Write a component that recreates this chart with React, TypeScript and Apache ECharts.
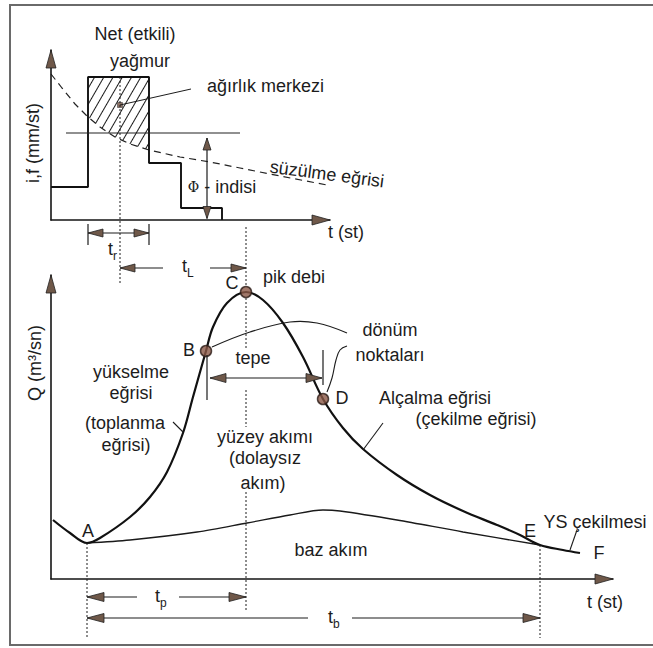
import React, { useEffect, useRef } from 'react';
import * as echarts from 'echarts';

// ---------------- top panel: hyetograph (time units, intensity units) ----------------
const rainEdges = [0, 3.7, 9.8, 13.0, 17.1];
const rainLevels = [3.3, 14.3, 5.7, 1.2];
const infilT = [0.0, 1.1, 2.4, 3.7, 4.9, 6.4, 7.9, 9.8, 12.9, 15.9, 18.9, 22.9, 27.6];
const infilV = [14.6, 13.2, 11.6, 10.3, 9.3, 8.3, 7.6, 7.0, 6.3, 5.8, 5.2, 4.4, 3.5];
const phiIndex = 8.7;
const phiSpan = [1.5, 18.9];
const centroid = [6.9, 11.5];
const topMax = [27.9, 17];

// ---------------- bottom panel: hydrograph ----------------
const hydT = [0.2, 1.9, 3.6, 4.9, 7.9, 9.9, 11.6, 13.2, 14.2, 15.5, 16.2, 17.6, 19.5, 21.2, 23.2, 25.2, 27.2, 29.2, 31.2, 34.6, 37.9, 41.2, 44.6, 46.9, 48.9, 51.2, 52.9];
const hydQ = [5.9, 4.6, 3.6, 4.1, 6.2, 8.2, 10.7, 14.6, 18.2, 22.8, 25.2, 27.6, 28.7, 27.9, 25.6, 22.2, 18.0, 15.1, 13.0, 10.4, 8.4, 6.8, 5.4, 4.4, 3.4, 2.9, 2.6];
const baseT = [3.6, 7.9, 14.6, 19.6, 23.9, 27.2, 28.9, 34.6, 41.2, 48.9];
const baseQ = [3.6, 3.9, 4.7, 5.6, 6.4, 6.9, 6.8, 5.9, 4.7, 3.4];
const keyNames = ['A', 'B', 'C', 'D', 'E', 'F'];
const keyIdx = [2, 9, 12, 16, 24, 26];
const dotted = ['B', 'C', 'D'];
const botMax = [56.2, 30.4];

const FONT = '"Liberation Sans", Arial, Helvetica, sans-serif';
const INK = '#1c1c1c';
const HEAD = '#6f5849';

type P = number[];

function seg(a: P, b: P, w = 1.2, dash?: number[]) {
  return {
    type: 'line', silent: true, z: 100,
    shape: { x1: a[0], y1: a[1], x2: b[0], y2: b[1] },
    style: { stroke: INK, lineWidth: w, lineDash: dash || null, fill: null },
  };
}
function head(tip: P, dir: P, len = 15, wid = 8) {
  const d = Math.hypot(dir[0], dir[1]);
  const ux = dir[0] / d, uy = dir[1] / d;
  const bx = tip[0] - ux * len, by = tip[1] - uy * len;
  return {
    type: 'polygon', silent: true, z: 102,
    shape: { points: [[tip[0], tip[1]], [bx - uy * wid / 2, by + ux * wid / 2], [bx + uy * wid / 2, by - ux * wid / 2]] },
    style: { fill: HEAD, stroke: '#222', lineWidth: 0.8 },
  };
}
function arrow2(a: P, b: P, gap?: [P, P], len = 15, wid = 8) {
  const out: any[] = [];
  if (gap) { out.push(seg(a, gap[0])); out.push(seg(gap[1], b)); } else out.push(seg(a, b));
  out.push(head(a, [a[0] - b[0], a[1] - b[1]], len, wid));
  out.push(head(b, [b[0] - a[0], b[1] - a[1]], len, wid));
  return out;
}
function txt(p: P, text: string, size = 18, align = 'center', rotation = 0, extra: any = {}) {
  return {
    type: 'text', silent: true, z: 104, x: p[0], y: p[1], rotation,
    style: {
      text, fill: INK, fontSize: size, fontFamily: FONT,
      align, verticalAlign: 'middle', textAlign: align, textVerticalAlign: 'middle', ...extra,
    },
  };
}
function sub(pMain: P, pSub: P, main: string, s: string) {
  return [txt(pMain, main, 18, 'right'), txt(pSub, s, 12, 'left')];
}

const axisCommon = {
  type: 'value',
  axisLine: { show: true, onZero: false, lineStyle: { color: '#151515', width: 1.6 } },
  axisTick: { show: false },
  axisLabel: { show: false },
  splitLine: { show: false },
  z: 10,
};

function baseOption(): any {
  const stepData = rainLevels.map((v, i) => [rainEdges[i], v]).concat([[rainEdges[4], 0]]);
  const infil = infilT.map((t, i) => [t, infilV[i]]);
  const cover = infil.filter((p) => p[0] >= rainEdges[1] && p[0] <= rainEdges[2]);
  const hyd = hydT.map((t, i) => [t, hydQ[i]]);
  const base = baseT.map((t, i) => [t, baseQ[i]]);
  const marks = keyNames
    .map((n, k) => ({ n, p: [hydT[keyIdx[k]], hydQ[keyIdx[k]]] }))
    .filter((m) => dotted.indexOf(m.n) >= 0)
    .map((m) => m.p);
  const decal = {
    symbol: 'rect', symbolSize: 1, color: '#1a1a1a', backgroundColor: 'rgba(0,0,0,0)',
    dashArrayX: [1, 0], dashArrayY: [1, 7], rotation: -Math.PI / 3,
  };
  return {
    animation: false,
    backgroundColor: '#ffffff',
    grid: [
      { left: 51, top: 50, width: 279, height: 170, outerBoundsMode: 'none', containLabel: false },
      { left: 51, top: 275, width: 562, height: 304, outerBoundsMode: 'none', containLabel: false },
    ],
    xAxis: [
      { ...axisCommon, gridIndex: 0, min: 0, max: topMax[0] },
      { ...axisCommon, gridIndex: 1, min: 0, max: botMax[0] },
    ],
    yAxis: [
      { ...axisCommon, gridIndex: 0, min: 0, max: topMax[1] },
      { ...axisCommon, gridIndex: 1, min: 0, max: botMax[1] },
    ],
    series: [
      {
        name: 'net', type: 'line', xAxisIndex: 0, yAxisIndex: 0, z: 1, silent: true,
        data: [[rainEdges[1], rainLevels[1]], [rainEdges[2], rainLevels[1]]],
        symbol: 'none', lineStyle: { width: 0, decal }, itemStyle: { decal },
        areaStyle: { color: '#ffffff', opacity: 1 },
      },
      {
        name: 'cover', type: 'line', xAxisIndex: 0, yAxisIndex: 0, z: 2, silent: true,
        data: cover, symbol: 'none', lineStyle: { width: 0, color: '#fff' },
        areaStyle: { color: '#ffffff', opacity: 1 },
      },
      {
        name: 'süzülme', type: 'line', xAxisIndex: 0, yAxisIndex: 0, z: 3, silent: true,
        data: infil, symbol: 'none', lineStyle: { width: 1.2, color: '#222', type: [7, 5] },
      },
      {
        name: 'yağış', type: 'line', xAxisIndex: 0, yAxisIndex: 0, z: 3, silent: true,
        data: stepData, step: 'end', symbol: 'none', lineStyle: { width: 1.9, color: '#111' },
      },
      {
        name: 'phi', type: 'line', xAxisIndex: 0, yAxisIndex: 0, z: 3, silent: true,
        data: [[phiSpan[0], phiIndex], [phiSpan[1], phiIndex]], symbol: 'none',
        lineStyle: { width: 1.1, color: '#222' },
      },
      {
        name: 'merkez', type: 'scatter', xAxisIndex: 0, yAxisIndex: 0, z: 4, silent: true,
        data: [centroid], symbol: 'rect', symbolSize: 5,
        itemStyle: { color: '#6b4a3a', borderColor: '#222', borderWidth: 0.6 },
      },
      {
        name: 'baz', type: 'line', xAxisIndex: 1, yAxisIndex: 1, z: 3, silent: true,
        data: base, smooth: 0.3, symbol: 'none', lineStyle: { width: 1.3, color: '#1a1a1a' },
      },
      {
        name: 'hidrograf', type: 'line', xAxisIndex: 1, yAxisIndex: 1, z: 4, silent: true,
        data: hyd, smooth: 0.35, symbol: 'none', lineStyle: { width: 2.2, color: '#111' },
      },
      {
        name: 'noktalar', type: 'scatter', xAxisIndex: 1, yAxisIndex: 1, z: 5, silent: true,
        data: marks, symbolSize: 11,
        itemStyle: { color: '#8a5746', borderColor: '#2a1c17', borderWidth: 1.5 },
      },
    ],
  };
}

function buildGraphics(g0: (t: number, v: number) => P, g1: (t: number, v: number) => P) {
  const els: any[] = [];
  const key = (n: string) => { const i = keyIdx[keyNames.indexOf(n)]; return [hydT[i], hydQ[i]]; };
  const A = key('A'), B = key('B'), C = key('C'), D = key('D'), E = key('E');

  els.push({ type: 'rect', silent: true, z: 100, shape: { x: 10, y: 5, width: 700, height: 640 }, style: { fill: null, stroke: '#6a6a6a', lineWidth: 2 } });

  // axis arrowheads
  els.push(head(g0(topMax[0], 0), [1, 0], 18, 10));
  els.push(head(g0(0, topMax[1]), [0, -1], 18, 10));
  els.push(head(g1(botMax[0], 0), [1, 0], 18, 10));
  els.push(head(g1(0, botMax[1]), [0, -1], 18, 10));

  // ---- top panel texts ----
  els.push(txt(g0(8.4, 18.6), 'Net (etkili)'));
  els.push(txt(g0(8.9, 15.9), 'yağmur'));
  els.push(txt(g0(15.6, 13.4), 'ağırlık merkezi', 18, 'left'));
  els.push(seg(g0(centroid[0], centroid[1]), g0(14.0, 13.1), 1));
  els.push(txt(g0(27.6, 4.6), 'süzülme eğrisi', 18, 'center', -0.13));
  els.push(...arrow2(g0(15.6, phiIndex - 0.5), g0(15.6, 0.15), undefined, 12, 8));
  els.push(txt(g0(17.1, 3.3), '{p|Φ} - indisi', 18, 'center', 0, {
    rich: { p: { fontFamily: '"DejaVu Serif", serif', fontSize: 14, fill: INK } },
  }));
  els.push(txt(g0(29.5, -1.2), 't (st)'));
  els.push(txt(g0(-1.8, 7.7), 'i,f (mm/st)', 18, 'center', Math.PI / 2));

  // t_r
  els.push(...arrow2(g0(rainEdges[1], -1.3), g0(rainEdges[2], -1.3)));
  els.push(seg(g0(rainEdges[1], -0.4), g0(rainEdges[1], -2.5)));
  els.push(seg(g0(rainEdges[2], -0.4), g0(rainEdges[2], -2.5)));
  els.push(...sub(g0(6.2, -2.9), g0(6.2, -3.6), 't', 'r'));

  // dotted verticals (broken around the peak dot and the labels)
  els.push(seg(g0(centroid[0], rainLevels[1]), g0(centroid[0], -6.3), 1, [2, 2]));
  els.push(seg(g0(C[0], -0.7), g1(C[0], C[1] + 0.6), 1, [2, 2]));
  els.push(seg(g1(C[0], C[1] - 0.6), g1(C[0], 22.9), 1, [2, 2]));
  els.push(seg(g1(C[0], 18.9), g1(C[0], 15.2), 1, [2, 2]));
  els.push(seg(g1(C[0], 8.7), g1(C[0], -3.3), 1, [2, 2]));
  els.push(seg(g1(A[0], A[1]), g1(A[0], -5.9), 1, [2, 2]));
  els.push(seg(g1(E[0], E[1]), g1(E[0], -5.9), 1, [2, 2]));

  // t_L
  els.push(...arrow2(g1(centroid[0], 31.1), g1(C[0], 31.1), [g1(11.2, 31.1), g1(15.9, 31.1)]));
  els.push(...sub(g1(13.6, 31.3), g1(13.6, 30.6), 't', 'L'));

  // point labels
  els.push(txt(g1(24.3, 30.2), 'pik debi'));
  els.push(txt(g1(18.1, 29.6), 'C'));
  els.push(txt(g1(13.8, 22.9), 'B'));
  els.push(txt(g1(29.1, 18.1), 'D'));
  els.push(txt(g1(3.7, 4.8), 'A'));
  els.push(txt(g1(47.9, 4.8), 'E'));
  els.push(txt(g1(54.8, 2.6), 'F'));

  // tepe
  els.push(...arrow2(g1(B[0] + 0.4, 20.1), g1(D[0] - 0.1, 20.1), undefined, 16, 9));
  els.push(seg(g1(15.6, 22.4), g1(15.6, 17.9)));
  els.push(seg(g1(27.2, 22.9), g1(27.2, 19.4)));
  els.push(txt(g1(20.2, 22.1), 'tepe'));

  // dönüm noktaları callouts
  const cb = [[16.1, 23.2], [19.9, 24.7], [23.9, 25.7], [26.6, 25.6], [29.6, 24.6]].map((p) => g1(p[0], p[1]));
  els.push({ type: 'polyline', silent: true, z: 100, shape: { points: cb, smooth: 0.4 }, style: { stroke: INK, lineWidth: 1.1, fill: null } });
  const cd = [[27.6, 18.7], [28.1, 20.1], [28.5, 21.9], [28.9, 22.9], [29.6, 23.3]].map((p) => g1(p[0], p[1]));
  els.push({ type: 'polyline', silent: true, z: 100, shape: { points: cd, smooth: 0.4 }, style: { stroke: INK, lineWidth: 1.1, fill: null } });
  els.push(txt(g1(33.9, 24.9), 'dönüm'));
  els.push(txt(g1(33.9, 22.4), 'noktaları'));

  // recession labels
  els.push(txt(g1(38.4, 18.1), 'Alçalma eğrisi'));
  els.push(txt(g1(42.5, 16.0), '(çekilme eğrisi)'));
  els.push(seg(g1(31.2, 12.9), g1(33.2, 15.6), 1.1));

  // rising limb labels
  els.push(txt(g1(8.0, 20.7), 'yükselme'));
  els.push(txt(g1(8.0, 18.6), 'eğrisi'));
  els.push(txt(g1(7.4, 15.6), '(toplanma'));
  els.push(txt(g1(7.5, 13.4), 'eğrisi)'));
  els.push(seg(g1(12.2, 15.7), g1(13.2, 14.7), 1.1));

  // surface runoff
  els.push(txt(g1(21.4, 14.2), 'yüzey akımı'));
  els.push(txt(g1(21.4, 12.1), '(dolaysız'));
  els.push(txt(g1(21.2, 9.6), 'akım)'));
  els.push(txt(g1(28.0, 2.9), 'baz akım'));

  // YS çekilmesi
  els.push(txt(g1(54.4, 5.7), 'YS çekilmesi'));
  els.push(seg(g1(52.6, 4.9), g1(51.9, 2.9), 1.1));

  // axis titles
  els.push(txt(g1(-1.6, 21.6), 'Q (m³/sn)', 18, 'center', Math.PI / 2));
  els.push(txt(g1(55.4, -2.3), 't (st)'));

  // t_p, t_b
  els.push(...arrow2(g1(A[0], -1.8), g1(C[0], -1.8), [g1(8.6, -1.8), g1(12.8, -1.8)], 17, 9));
  els.push(...sub(g1(10.9, -1.7), g1(10.9, -2.4), 't', 'p'));
  els.push(...arrow2(g1(A[0], -3.9), g1(E[0], -3.9), [g1(25.7, -3.9), g1(30.1, -3.9)], 17, 9));
  els.push(...sub(g1(28.2, -3.8), g1(28.2, -4.5), 't', 'b'));

  return els;
}

export default function App() {
  const ref = useRef<HTMLDivElement>(null);
  useEffect(() => {
    const el = ref.current as HTMLDivElement;
    const chart = echarts.init(el, null, { renderer: 'svg', width: 653, height: 648 });
    chart.setOption(baseOption());
    const g0 = (t: number, v: number) => chart.convertToPixel({ gridIndex: 0 } as any, [t, v]) as unknown as P;
    const g1 = (t: number, v: number) => chart.convertToPixel({ gridIndex: 1 } as any, [t, v]) as unknown as P;
    chart.setOption({ graphic: { elements: buildGraphics(g0, g1) } });
    return () => chart.dispose();
  }, []);
  return (
    <div
      ref={ref}
      style={{ position: 'fixed', left: 0, top: 0, width: 653, height: 648, background: '#ffffff' }}
    />
  );
}
